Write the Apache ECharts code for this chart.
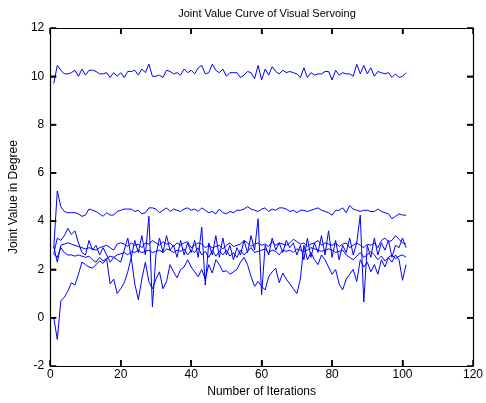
<!DOCTYPE html>
<html><head><meta charset="utf-8">
<script src="https://cdn.jsdelivr.net/npm/echarts@6/dist/echarts.min.js"></script>
<style>html,body{margin:0;padding:0;background:#fff}#c{width:486px;height:403px}</style>
</head><body><div id="c"></div>
<script>
const xTicks = [0, 20, 40, 60, 80, 100, 120];
const yTicks = [-2, 0, 2, 4, 6, 8, 10, 12];
const joint1 = [9.7,10.45,10.25,10.1,10.1,10.15,10.25,10.0,10.3,10.05,10.25,10.25,10.2,10.1,10.1,10.15,9.95,10.15,10.0,10.15,9.95,10.2,10.2,10.25,10.05,10.3,10.15,10.5,10.0,10.0,10.05,9.95,10.25,10.2,10.1,10.15,10.05,10.3,10.15,10.25,10.1,10.35,10.45,10.1,10.15,10.5,10.25,10.15,10.3,10.0,10.15,10.15,10.15,9.95,10.05,10.2,10.15,9.9,10.45,9.85,10.3,10.05,10.4,10.2,10.1,10.25,10.15,10.2,10.15,10.1,9.95,10.35,9.95,10.15,10.05,10.1,10.1,10.2,10.2,9.85,10.25,10.05,10.15,10.1,10.1,10.0,10.5,10.1,10.45,10.1,10.35,10.0,10.2,10.15,10.1,10.15,9.95,10.1,9.95,10.0,10.15];
const joint2 = [2.9,5.25,4.6,4.4,4.35,4.35,4.35,4.3,4.2,4.25,4.5,4.45,4.4,4.3,4.2,4.35,4.25,4.25,4.4,4.45,4.5,4.5,4.5,4.4,4.45,4.3,4.35,4.55,4.55,4.5,4.35,4.45,4.55,4.4,4.5,4.45,4.4,4.5,4.55,4.45,4.5,4.4,4.55,4.45,4.35,4.4,4.3,4.5,4.35,4.3,4.4,4.35,4.45,4.45,4.5,4.6,4.5,4.45,4.4,4.5,4.55,4.4,4.5,4.45,4.55,4.55,4.5,4.4,4.45,4.35,4.45,4.45,4.4,4.45,4.5,4.55,4.45,4.4,4.35,4.25,4.45,4.45,4.55,4.35,4.65,4.5,4.45,4.4,4.45,4.45,4.4,4.4,4.5,4.4,4.35,4.3,4.1,4.2,4.3,4.25,4.25];
const joint3 = [0,-0.9,0.7,0.85,1.1,1.45,1.35,1.8,2.3,2.2,2.1,2.05,2.2,2.35,2.25,2.45,1.4,1.6,1.0,1.2,1.45,1.9,2.5,1.4,0.75,1.6,2.3,1.5,1.2,1.6,1.9,1.2,1.5,2.2,1.9,1.65,2.0,2.1,2.4,2.1,1.9,1.7,2.0,1.6,2.2,1.85,2.4,2.2,1.9,1.95,1.8,1.9,2.0,2.3,2.5,2.2,1.7,1.3,1.5,1.3,1.15,1.7,1.9,2.05,1.45,1.85,1.6,1.4,1.2,1.0,1.6,3.0,2.4,2.7,2.4,2.2,2.6,2.4,2.1,1.8,2.0,1.4,1.15,1.6,1.8,2.0,1.5,2.4,2.1,2.3,1.9,2.2,1.8,2.4,2.1,2.5,2.3,2.6,2.4,1.55,2.2];
const joint4 = [2.65,3.3,3.2,3.4,3.7,3.45,3.6,3.1,2.7,2.6,3.2,2.8,3.0,2.6,2.9,2.6,2.3,2.5,2.4,2.3,2.8,3.3,2.5,3.2,2.7,3.4,2.6,4.2,0.45,2.6,3.3,2.7,3.4,2.8,3.0,2.5,3.2,2.6,3.1,2.7,3.2,2.5,3.75,1.35,3.1,2.6,3.4,2.5,3.3,2.6,3.0,2.4,2.9,2.6,3.2,2.7,3.4,2.8,4.1,0.95,3.0,2.6,3.3,2.8,3.1,2.7,3.2,2.9,3.1,2.6,3.0,2.4,3.3,2.5,3.1,2.7,3.4,2.6,3.6,2.5,3.2,2.4,3.0,2.7,3.3,2.6,3.1,4.25,0.65,3.0,2.5,3.3,2.6,3.1,2.8,3.2,2.5,3.0,2.9,3.3,2.9];
const joint5 = [2.95,2.3,3.0,3.05,3.1,3.05,3.0,2.95,2.9,2.85,2.9,2.85,2.8,2.9,2.95,3.0,2.9,2.8,3.05,3.1,3.05,2.95,3.1,3.0,3.05,2.9,3.1,3.05,3.2,3.1,3.0,3.15,3.05,3.1,2.95,3.1,3.0,3.1,3.15,2.9,3.0,3.1,3.05,2.9,3.0,2.9,2.95,3.0,2.85,3.0,3.1,2.95,3.0,3.05,3.2,3.1,2.95,3.05,3.1,3.0,3.05,2.95,3.15,3.0,3.1,3.05,3.0,3.1,3.25,3.15,3.05,3.1,2.95,3.05,3.1,3.2,3.0,3.1,3.05,3.0,3.1,2.95,3.05,3.1,2.9,3.0,3.1,3.0,2.9,3.05,3.0,3.1,2.9,3.2,3.3,3.15,3.2,3.4,3.25,3.1,3.05];
const joint6 = [2.65,2.5,2.9,2.7,2.6,2.6,2.55,2.6,2.55,2.5,2.55,2.4,2.3,2.5,2.35,2.45,2.55,2.5,2.6,2.65,2.7,2.6,2.75,2.7,2.8,2.7,2.75,2.8,2.7,2.75,2.8,2.7,2.85,2.8,2.7,2.8,2.75,2.85,2.6,2.8,2.7,2.9,2.6,2.75,2.5,2.8,2.55,2.75,2.6,2.8,2.55,2.7,2.5,2.8,2.6,2.75,2.9,2.7,2.75,2.8,2.85,2.7,2.8,2.75,2.6,2.8,2.75,2.8,2.7,2.85,2.8,2.75,2.8,2.9,2.85,2.8,2.75,2.8,2.85,2.8,2.7,2.75,2.8,2.6,2.5,2.4,2.55,2.7,2.5,2.6,2.75,2.6,2.4,2.55,2.35,2.5,2.6,2.45,2.55,2.6,2.5];
const allJoints = [joint1, joint2, joint3, joint4, joint5, joint6];

const font = 'Liberation Sans, Arial, Helvetica, sans-serif';
const chart = echarts.init(document.getElementById('c'), null, {renderer: 'canvas'});
function axisBase() {
  return {
    axisLine: {show: true, onZero: false, lineStyle: {color: '#000', width: 1.2}},
    axisTick: {show: true, inside: true, length: 6, lineStyle: {color: '#000', width: 1.5}},
    splitLine: {show: false}
  };
}
const labelStyle = {color: '#000', fontSize: 12, fontFamily: font};
const xMin = xTicks[0], xMax = xTicks[xTicks.length - 1];
const yMin = yTicks[0], yMax = yTicks[yTicks.length - 1];
const TICK = 6;
const tickStyle = {stroke: '#000', lineWidth: 1.5};

function lineEl(x1, y1, x2, y2) {
  return {type: 'line', shape: {x1: x1, y1: y1, x2: x2, y2: y2}, style: tickStyle};
}

const lineSeries = allJoints.map(arr => ({
  type: 'line', showSymbol: false, symbol: 'none',
  lineStyle: {color: '#0000ff', width: 1}, itemStyle: {color: '#0000ff'},
  data: arr.map((v, i) => [i + 1, v])
}));

// inward tick marks on all four sides (MATLAB box style), positioned by the axis scales
const xTickSeries = {
  type: 'custom', clip: false, silent: true, z: 5,
  data: xTicks.slice(1, -1).map(v => [v, yMin]),
  encode: {x: 0, y: 1},
  renderItem: function (params, api) {
    const v = api.value(0);
    const b = api.coord([v, yMin]);
    const t = api.coord([v, yMax]);
    return {type: 'group', children: [
      lineEl(b[0], b[1], b[0], b[1] - TICK),
      lineEl(t[0], t[1], t[0], t[1] + TICK)
    ]};
  }
};
const yTickSeries = {
  type: 'custom', clip: false, silent: true, z: 5,
  data: yTicks.slice(1, -1).map(v => [xMin, v]),
  encode: {x: 0, y: 1},
  renderItem: function (params, api) {
    const v = api.value(1);
    const l = api.coord([xMin, v]);
    const r = api.coord([xMax, v]);
    return {type: 'group', children: [
      lineEl(l[0], l[1], l[0] + TICK, l[1]),
      lineEl(r[0], r[1], r[0] - TICK, r[1])
    ]};
  }
};

chart.setOption({
  animation: false,
  backgroundColor: '#fff',
  title: {text: 'Joint Value Curve of Visual Servoing', left: 262, textAlign: 'center', top: 3,
    textStyle: {fontSize: 11, fontWeight: 'normal', color: '#000', fontFamily: font}},
  grid: {left: 48, right: 9, top: 28, bottom: 37},
  xAxis: [
    Object.assign({type: 'value', min: xMin, max: xMax, interval: 20, position: 'bottom',
      name: 'Number of Iterations', nameLocation: 'middle', nameGap: 19,
      nameTextStyle: labelStyle, axisLabel: Object.assign({margin: 3}, labelStyle)}, axisBase()),
    Object.assign({type: 'value', min: xMin, max: xMax, interval: 20, position: 'top',
      axisLabel: {show: false}}, axisBase())
  ],
  yAxis: [
    Object.assign({type: 'value', min: yMin, max: yMax, interval: 2, position: 'left',
      name: 'Joint Value in Degree', nameLocation: 'middle', nameGap: 26, nameRotate: 90,
      nameTextStyle: labelStyle, axisLabel: Object.assign({margin: 6}, labelStyle)}, axisBase()),
    Object.assign({type: 'value', min: yMin, max: yMax, interval: 2, position: 'right',
      axisLabel: {show: false}}, axisBase())
  ],
  series: lineSeries.concat([xTickSeries, yTickSeries])
});
</script>
</body></html>
